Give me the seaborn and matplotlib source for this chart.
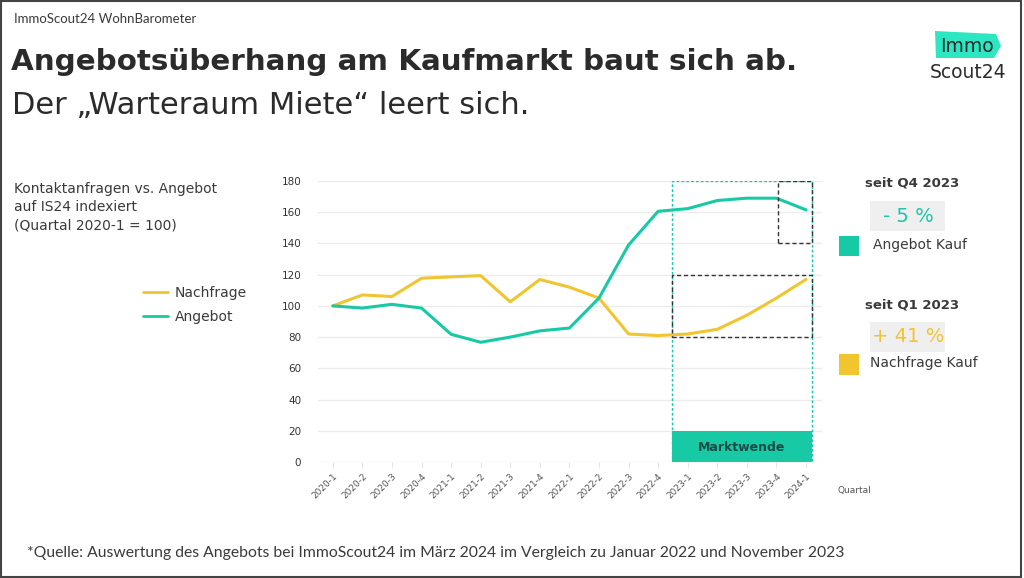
import seaborn as sns
import pandas as pd
import matplotlib.pyplot as plt
from matplotlib.patches import Rectangle, Polygon
from matplotlib.lines import Line2D

quartale = ['2020-1', '2020-2', '2020-3', '2020-4', '2021-1', '2021-2', '2021-3', '2021-4',
            '2022-1', '2022-2', '2022-3', '2022-4', '2023-1', '2023-2', '2023-3', '2023-4', '2024-1']
nachfrage = [100, 107, 106, 117.7, 118.6, 119.4, 102.6, 116.9, 112, 105, 82, 81, 82, 85, 94, 105, 117]
angebot = [100, 98.6, 101, 98.6, 81.8, 76.7, 80, 84, 85.8, 105, 139, 160.6, 162.3, 167.5, 169, 169, 161.5]

teal = '#18C9A6'
gelb = '#F1C530'
grau = '#3a3a3a'

df = pd.DataFrame({
    'x': list(range(len(quartale))) * 2,
    'wert': nachfrage + angebot,
    'reihe': ['Nachfrage'] * len(quartale) + ['Angebot'] * len(quartale),
})

sns.set_style('white')
plt.rcParams['font.family'] = ['DejaVu Sans']
lato = ['Lato', 'DejaVu Sans']

fig = plt.figure(figsize=(10.24, 5.78), dpi=100)
ax = fig.add_axes([318 / 1024, 1 - 462 / 578, 504 / 1024, 281 / 578])

sns.lineplot(data=df, x='x', y='wert', hue='reihe', palette={'Nachfrage': gelb, 'Angebot': teal},
             linewidth=2.2, ax=ax, legend=False)

ax.set_xlim(-0.5, 16.54)
ax.set_ylim(0, 180)
ax.set_yticks(range(0, 181, 20))
ax.set_xticks(range(len(quartale)))
ax.set_xticklabels(quartale, rotation=45, ha='right', rotation_mode='anchor', fontsize=6.5, color='#555555')
ax.tick_params(axis='y', labelsize=7.5, colors='#333333', length=0, pad=12)
ax.tick_params(axis='x', length=4, color='#e6e6e6', pad=3, bottom=True)
ax.grid(axis='y', color='#ececec', linewidth=1)
ax.set_axisbelow(True)
for s in ax.spines.values():
    s.set_visible(False)
ax.set_xlabel('')
ax.set_ylabel('')

# Marktwende-Bereich
ax.add_patch(Rectangle((11.47, 0), 4.73, 180, fill=False, edgecolor=teal, linestyle=(0, (2, 1.5)), linewidth=1))
ax.add_patch(Rectangle((11.47, 0), 4.73, 20, facecolor=teal, edgecolor='none', zorder=3))
ax.text(13.83, 9, 'Marktwende', ha='center', va='center', fontsize=9, fontweight='bold', color='#1f4a44', zorder=4)
ax.add_patch(Rectangle((11.47, 80), 4.73, 40, fill=False, edgecolor='#333333', linestyle=(0, (3, 2)), linewidth=1, zorder=4))
ax.add_patch(Rectangle((15.05, 140), 1.15, 40, fill=False, edgecolor='#333333', linestyle=(0, (3, 2)), linewidth=1, zorder=4))

# Kopfzeile
fig.text(14 / 1024, 1 - 19 / 578, 'ImmoScout24 WohnBarometer', fontsize=9.5, color=grau, va='center', family=lato)
fig.text(11 / 1024, 1 - 62 / 578, 'Angebotsüberhang am Kaufmarkt baut sich ab.', fontsize=21.2,
         fontweight='bold', color='#2b2b2b', va='center')
fig.text(12 / 1024, 1 - 106 / 578, 'Der „Warteraum Miete“ leert sich.', fontsize=22, color='#2b2b2b', va='center')

# Logo
fig.patches.append(Polygon([(935 / 1024, 1 - 31 / 578), (996 / 1024, 1 - 34 / 578), (1001 / 1024, 1 - 46 / 578),
                            (994 / 1024, 1 - 58 / 578), (936 / 1024, 1 - 58 / 578)],
                           closed=True, transform=fig.transFigure, facecolor='#2DE6C2', edgecolor='none'))
fig.text(967 / 1024, 1 - 46 / 578, 'Immo', fontsize=13.5, color='#2b2b2b', ha='center', va='center')
fig.text(968 / 1024, 1 - 72 / 578, 'Scout24', fontsize=13.5, color='#2b2b2b', ha='center', va='center')

# Linke Beschriftung
fig.text(14 / 1024, 1 - 207 / 578, 'Kontaktanfragen vs. Angebot\nauf IS24 indexiert\n(Quartal 2020-1 = 100)',
         fontsize=10, color=grau, va='center', linespacing=1.4)
handles = [Line2D([], [], color=gelb, linewidth=2), Line2D([], [], color=teal, linewidth=2)]
fig.legend(handles, ['Nachfrage', 'Angebot'], loc='center left', bbox_to_anchor=(130 / 1024, 1 - 305 / 578),
           frameon=False, fontsize=10, handlelength=1.8, handletextpad=0.5, labelspacing=0.7, labelcolor=grau)

# Rechte Beschriftung
fig.text(865 / 1024, 1 - 183 / 578, 'seit Q4 2023', fontsize=9.5, fontweight='bold', color=grau, va='center')
fig.patches.append(Rectangle((870 / 1024, 1 - 231 / 578), 75 / 1024, 30 / 578, transform=fig.transFigure,
                             facecolor='#efefef', edgecolor='none'))
fig.text(908 / 1024, 1 - 216 / 578, '- 5 %', fontsize=14, color=teal, ha='center', va='center')
fig.patches.append(Rectangle((839 / 1024, 1 - 256 / 578), 20 / 1024, 20 / 578, transform=fig.transFigure,
                             facecolor=teal, edgecolor='none'))
fig.text(873 / 1024, 1 - 245 / 578, 'Angebot Kauf', fontsize=10, color=grau, va='center')

fig.text(865 / 1024, 1 - 305 / 578, 'seit Q1 2023', fontsize=9.5, fontweight='bold', color=grau, va='center')
fig.patches.append(Rectangle((870 / 1024, 1 - 352 / 578), 75 / 1024, 30 / 578, transform=fig.transFigure,
                             facecolor='#efefef', edgecolor='none'))
fig.text(908 / 1024, 1 - 337 / 578, '+ 41 %', fontsize=14, color=gelb, ha='center', va='center')
fig.patches.append(Rectangle((839 / 1024, 1 - 375 / 578), 20 / 1024, 21 / 578, transform=fig.transFigure,
                             facecolor=gelb, edgecolor='none'))
fig.text(870 / 1024, 1 - 363 / 578, 'Nachfrage Kauf', fontsize=10, color=grau, va='center')

fig.text(838 / 1024, 1 - 491 / 578, 'Quartal', fontsize=6.5, color='#555555', va='center')

# Quelle
fig.text(27 / 1024, 1 - 553 / 578,
         '*Quelle: Auswertung des Angebots bei ImmoScout24 im März 2024 im Vergleich zu Januar 2022 und November 2023',
         fontsize=11.3, color=grau, va='center', family=lato)

# Rahmen
fig.patches.append(Rectangle((0.001, 0.002), 0.996, 0.996, transform=fig.transFigure, fill=False,
                             edgecolor='#444444', linewidth=1.5))

fig.savefig('out.png', dpi=100)
